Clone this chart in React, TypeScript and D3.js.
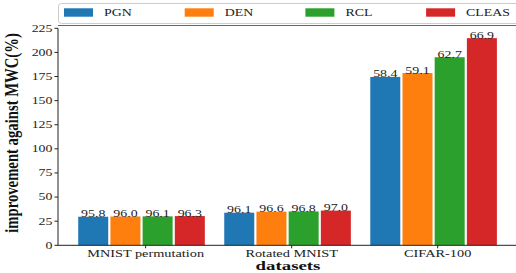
import * as d3 from "d3"

const categories = ["MNIST permutation", "Rotated MNIST", "CIFAR-100"]
const methods = ["PGN", "DEN", "RCL", "CLEAS"]
const colors = ["#1f77b4", "#ff7f0e", "#2ca02c", "#d62728"]

// bar heights: improvement against MWC (%)
const pgnValues = [29.6, 33.8, 174.6]
const denValues = [29.9, 34.9, 178.6]
const rclValues = [30.0, 35.1, 195.0]
const cleasValues = [30.3, 36.0, 214.8]

// printed accuracy labels above bars
const pgnLabels = ["95.8", "96.1", "58.4"]
const denLabels = ["96.0", "96.6", "59.1"]
const rclLabels = ["96.1", "96.8", "62.7"]
const cleasLabels = ["96.3", "97.0", "66.9"]

const yTicks = [0, 25, 50, 75, 100, 125, 150, 175, 200, 225]

const W = 516
const H = 273
const SX = 1.35 // horizontal stretch of the original image
const serif = "Liberation Serif"

export default function App() {
  const values = [pgnValues, denValues, rclValues, cleasValues]
  const labels = [pgnLabels, denLabels, rclLabels, cleasLabels]

  const x = d3.scalePoint<string>().domain(categories).range([58, 525.3]).padding(0.6)
  const sub = d3.scaleBand<string>().domain(methods).range([-67.4, 59.2]).paddingInner(0.068)
  const y = d3.scaleLinear().domain([0, 225]).range([245.3, 28.3])

  const axisColor = "#222"

  return (
    <div style={{ position: "fixed", left: 0, top: 0 }}>
      <svg width={W} height={H} style={{ display: "block", background: "#fff", fontFamily: serif }}>
        {/* legend */}
        <rect x={58.5} y={3.5} width={462} height={20} rx={3} fill="#fff" stroke="#cccccc" />
        <line x1={58} x2={W} y1={25.5} y2={25.5} stroke="#666" strokeWidth={1} />
        {methods.map((m, i) => {
          const kx = 64 + i * 120.7
          return (
            <g key={m}>
              <rect x={kx} y={8.3} width={29} height={8.4} fill={colors[i]} />
              <text
                transform={`translate(${kx + 40},16.3) scale(${SX},1)`}
                fontFamily={serif}
                fontSize={10.3}
                fill="#222"
              >
                {m}
              </text>
            </g>
          )
        })}

        {/* bars */}
        {categories.map((c, ci) =>
          methods.map((m, mi) => {
            const bx = (x(c) as number) + (sub(m) as number)
            const v = values[mi][ci]
            return (
              <g key={c + m}>
                <rect x={bx} y={y(v)} width={sub.bandwidth()} height={y(0) - y(v)} fill={colors[mi]} />
                <text
                  transform={`translate(${bx + sub.bandwidth() / 2},${y(v) + 0.5}) scale(${SX},1)`}
                  textAnchor="middle"
                  fontFamily={serif}
                  fontSize={10.3}
                  fill="#222"
                >
                  {labels[mi][ci]}
                </text>
              </g>
            )
          }),
        )}

        {/* y axis */}
        <line x1={58} x2={58} y1={y(0)} y2={y(225)} stroke={axisColor} />
        {yTicks.map((t) => (
          <g key={t}>
            <line x1={54.5} x2={58} y1={y(t)} y2={y(t)} stroke={axisColor} />
            <text
              transform={`translate(52.5,${y(t)}) scale(${SX},1)`}
              dy="0.33em"
              textAnchor="end"
              fontFamily={serif}
              fontSize={10.3}
              fill="#222"
            >
              {t}
            </text>
          </g>
        ))}

        {/* x axis */}
        <line x1={58} x2={W} y1={y(0)} y2={y(0)} stroke={axisColor} />
        {categories.map((c) => (
          <g key={c}>
            <line x1={x(c)} x2={x(c)} y1={y(0)} y2={y(0) + 3} stroke={axisColor} />
            <text
              transform={`translate(${x(c)},256.5) scale(${SX},1)`}
              textAnchor="middle"
              fontFamily={serif}
              fontSize={10.6}
              fill="#222"
            >
              {c}
            </text>
          </g>
        ))}

        {/* axis titles */}
        <text
          transform={`translate(288,270) scale(1.45,1)`}
          textAnchor="middle"
          fontFamily={serif}
          fontWeight="bold"
          fontSize={13}
          fill="#111"
        >
          datasets
        </text>
        <text
          transform={`translate(18,133) scale(${SX},1) rotate(-90)`}
          textAnchor="middle"
          fontFamily={serif}
          fontWeight="bold"
          fontSize={14.7}
          fill="#111"
        >
          improvement against MWC(%)
        </text>
      </svg>
    </div>
  )
}
